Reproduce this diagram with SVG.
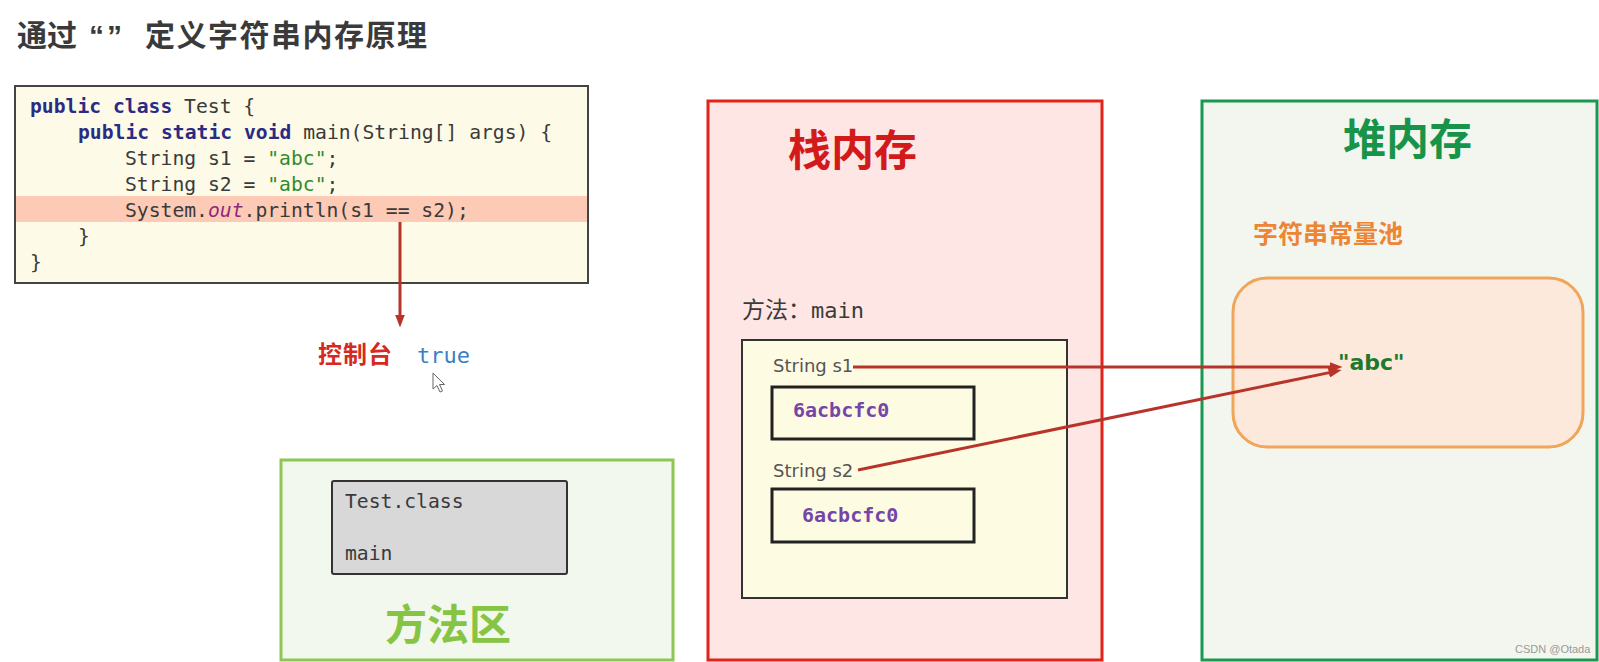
<svg xmlns="http://www.w3.org/2000/svg" width="1599" height="662" viewBox="0 0 1599 662">
<style>
.cjk{font-family:"Noto Sans CJK SC",sans-serif;font-weight:bold}
.code{font-family:"DejaVu Sans Mono","Liberation Mono",monospace;font-size:19.7px;fill:#3a3a3a;white-space:pre}
.kw{fill:#2b2b84;font-weight:bold}
.str{fill:#2e8b2e}
.out{fill:#8b2a7e;font-style:italic}
.lbl{font-family:"DejaVu Sans",sans-serif;font-size:18px;fill:#555}
.addr{font-family:"DejaVu Sans Mono",monospace;font-size:20px;fill:#7446a8;font-weight:bold}
.conn{stroke:#b8342a;stroke-width:3;fill:none}
</style>
<defs>
<marker id="ah" viewBox="0 0 13 10" refX="0.5" refY="5" markerWidth="13" markerHeight="10" markerUnits="userSpaceOnUse" orient="auto">
<path d="M0,0 L13,5 L0,10 z" fill="#b8342a"/>
</marker>
</defs>
<rect width="1599" height="662" fill="#ffffff"/>

<g id="title">
<text class="cjk" x="17" y="46" font-size="30" fill="#3a3a3a">通过</text>
<text x="89" y="46" font-family="Liberation Sans,sans-serif" font-weight="bold" font-size="30" letter-spacing="3" fill="#3a3a3a">“”</text>
<text class="cjk" x="145" y="46" font-size="30" letter-spacing="1.5" fill="#3a3a3a">定义字符串内存原理</text>
</g>

<g id="code">
<rect x="15" y="86" width="573" height="197" fill="#fdfbe7" stroke="#444" stroke-width="2"/>
<rect x="16" y="196" width="571" height="26" fill="#fdcab5"/>
<text class="code" x="30" y="113"><tspan class="kw">public class</tspan> Test {</text>
<text class="code" x="78" y="139"><tspan class="kw">public static void</tspan> main(String[] args) {</text>
<text class="code" x="125" y="165">String s1 = <tspan class="str">"abc"</tspan>;</text>
<text class="code" x="125" y="191">String s2 = <tspan class="str">"abc"</tspan>;</text>
<text class="code" x="125" y="217">System.<tspan class="out">out</tspan>.println(s1 == s2);</text>
<text class="code" x="78" y="243">}</text>
<text class="code" x="30" y="269">}</text>
</g>

<g id="console">
<text class="cjk" x="318" y="363" font-size="24" letter-spacing="1" fill="#d42a22">控制台</text>
<text x="417" y="363" font-family="DejaVu Sans Mono,monospace" font-size="22" fill="#3b7fc4">true</text>
<path d="M433,373 L433,389 L437,385.5 L440,392 L442.5,391 L439.5,384.5 L444.5,384.5 Z" fill="#ffffff" stroke="#666" stroke-width="1"/>
</g>

<g id="method-area">
<rect x="281" y="460" width="392" height="200" fill="#f3f8ee" stroke="#8dc653" stroke-width="3"/>
<rect x="332" y="481" width="235" height="93" rx="2" fill="#d8d8d8" stroke="#333" stroke-width="2"/>
<text class="code" x="345" y="508" fill="#222">Test.class</text>
<text class="code" x="345" y="560" fill="#222">main</text>
<text class="cjk" x="385" y="640" font-size="42" fill="#86c443">方法区</text>
</g>

<g id="stack">
<rect x="708" y="101" width="394" height="559" fill="#fde6e4" stroke="#e2231a" stroke-width="3"/>
<text class="cjk" x="788" y="166" font-size="43" fill="#d21a1a">栈内存</text>
<text x="742" y="318" font-family="Noto Sans CJK SC,sans-serif" font-size="23" fill="#3a3a3a">方法：<tspan font-family="DejaVu Sans Mono,monospace" font-size="22">main</tspan></text>
<rect x="742" y="340" width="325" height="258" fill="#fefbe3" stroke="#333" stroke-width="2"/>
<text class="lbl" x="773" y="372">String s1</text>
<rect x="772" y="387" width="202" height="52" fill="#fefbe3" stroke="#222" stroke-width="3"/>
<text class="addr" x="793" y="417">6acbcfc0</text>
<text class="lbl" x="773" y="477">String s2</text>
<rect x="772" y="489" width="202" height="53" fill="#fefbe3" stroke="#222" stroke-width="3"/>
<text class="addr" x="802" y="522">6acbcfc0</text>
</g>

<g id="heap">
<rect x="1202" y="101" width="395" height="559" fill="#f3f6ee" stroke="#1a9850" stroke-width="3"/>
<text class="cjk" x="1343" y="155" font-size="43" fill="#17944a">堆内存</text>
<text class="cjk" x="1253" y="243" font-size="25" fill="#ee8533">字符串常量池</text>
<rect x="1233" y="278" width="350" height="169" rx="34" fill="#fde9db" stroke="#f0a55a" stroke-width="3"/>
<text x="1338" y="370" font-family="DejaVu Sans,sans-serif" font-weight="bold" font-size="22" fill="#1d7a2b">"abc"</text>
</g>

<g id="connectors">
<line class="conn" x1="400" y1="222" x2="400" y2="315" stroke-width="2.5" marker-end="url(#ah)"/>
<line class="conn" x1="853" y1="367" x2="1330" y2="367" marker-end="url(#ah)"/>
<line class="conn" x1="858" y1="470" x2="1329.3" y2="372.6" marker-end="url(#ah)"/>
</g>

<text x="1515" y="653" font-family="Liberation Sans,sans-serif" font-size="11" fill="#999">CSDN @Otada</text>
</svg>
